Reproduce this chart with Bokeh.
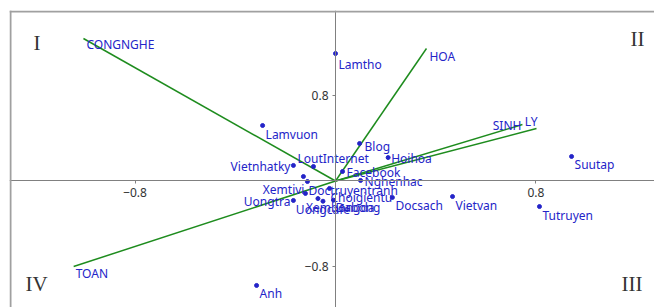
from bokeh.plotting import figure
from bokeh.models import ColumnDataSource, LinearAxis, FixedTicker, Span, Label
from bokeh.core.properties import value
from bokeh.embed import file_html
from bokeh.resources import INLINE

# ---- observations (points) ----
obs_names = ["Lamtho", "Lamvuon", "Blog", "Hoihoa", "LoutInternet", "Vietnhatky",
             "Facebook", "", "Xemtivi", "Nghenhac", "Doctruyentranh", "Choigientu",
             "Uongtra", "Xembongda", "Uongcafe", "Dabong", "Docsach", "Vietvan",
             "Tutruyen", "Suutap", "Anh"]
obs_x = [0.00, -0.291, 0.096, 0.21, -0.088, -0.168,
         0.028, -0.128, -0.112, 0.10, -0.12, -0.024,
         -0.168, -0.07, -0.05, -0.008, 0.227, 0.467,
         0.814, 0.942, -0.315]
obs_y = [1.197, 0.521, 0.352, 0.22, 0.136, 0.146,
         0.089, 0.042, -0.005, 0.005, -0.117, -0.07,
         -0.183, -0.165, -0.19, -0.18, -0.155, -0.146,
         -0.24, 0.23, -0.981]

# ---- variables (arrows) ----
var_names = ["CONGNGHE", "HOA", "SINH", "LY", "TOAN"]
var_x = [-1.006, 0.363, 0.746, 0.802, -1.045]
var_y = [1.338, 1.244, 0.53, 0.493, -0.803]

tick_values = [-0.8, 0.8]
quadrants = ["I", "II", "III", "IV"]

X_START, X_END = -1.301, 1.273
Y_START, Y_END = -1.188, 1.601

# label placement (layout only): align, baseline, dx, dy
obs_place = [("left", "top", 3, 2), ("left", "top", 3, 0), ("left", "middle", 5, 3),
             ("left", "middle", 3, 1), ("left", "bottom", -16, 0), ("right", "middle", -3, 1),
             ("left", "middle", 4, 1), ("left", "middle", 4, 0), ("right", "top", -3, -1),
             ("left", "middle", 4, 1), ("left", "middle", 3, -3), ("left", "top", 1, 1),
             ("right", "middle", -3, 1), ("left", "top", -12, 0), ("center", "top", 0, 0),
             ("left", "top", 2, -1), ("left", "top", 3, 0), ("left", "top", 3, 0),
             ("left", "top", 3, 0), ("left", "top", 3, 0), ("left", "top", 3, 0)]
var_place = [("left", "middle", 3, 6), ("left", "middle", 3, 8), ("right", "middle", -1, 1),
             ("right", "middle", 1, -7), ("left", "middle", 2, 7)]

BLUE = "#2424c8"
GREEN = "#1e8c1e"
GRID = "#a0a0a0"

p = figure(width=654, height=307, output_backend="svg", toolbar_location=None,
           x_range=(X_START, X_END), y_range=(Y_START, Y_END),
           x_axis_location=None, y_axis_location=None,
           min_border_left=9, min_border_top=10, min_border_right=0, min_border_bottom=0)
p.grid.visible = False
p.outline_line_color = None
p.background_fill_color = "white"

# frame borders (top, left), drawn just inside the frame
p.add_layout(Span(location=Y_END - 0.009, dimension="width", line_color=GRID, line_width=2))
p.add_layout(Span(location=X_START + 0.004, dimension="height", line_color=GRID, line_width=2))

# axes through origin
for side in ("below", "left"):
    ax = LinearAxis(fixed_location=0, ticker=FixedTicker(ticks=tick_values),
                    axis_line_color="#808080", axis_line_width=1,
                    major_tick_line_color="#808080", major_tick_out=3, major_tick_in=0,
                    minor_tick_line_color=None,
                    major_label_text_font="Noto Sans", major_label_text_font_size="12px",
                    major_label_text_color="#333333", major_label_standoff=4)
    p.add_layout(ax, side)

# variable arrows
for vx, vy in zip(var_x, var_y):
    p.line([0, vx], [0, vy], line_color=GREEN, line_width=1.5)

vsrc = ColumnDataSource(dict(x=var_x, y=var_y, t=var_names,
                             a=[q[0] for q in var_place], b=[q[1] for q in var_place],
                             dx=[q[2] for q in var_place], dy=[q[3] for q in var_place]))
p.text("x", "y", text="t", source=vsrc, text_align="a", text_baseline="b",
       x_offset="dx", y_offset="dy", text_color=BLUE, text_font=value("Noto Sans"),
       text_font_size="12px")

# observation points
osrc = ColumnDataSource(dict(x=obs_x, y=obs_y, t=obs_names,
                             a=[q[0] for q in obs_place], b=[q[1] for q in obs_place],
                             dx=[q[2] for q in obs_place], dy=[q[3] for q in obs_place]))
p.scatter("x", "y", source=osrc, size=4, color=BLUE)
p.text("x", "y", text="t", source=osrc, text_align="a", text_baseline="b",
       x_offset="dx", y_offset="dy", text_color=BLUE, text_font=value("Noto Sans"),
       text_font_size="12px")

# quadrant numerals
qpos = [(24, 253), (621, 257), (612, 12), (16, 12)]
for q, (sx, sy) in zip(quadrants, qpos):
    p.add_layout(Label(x=sx, y=sy, x_units="screen", y_units="screen", text=q,
                       text_font="Liberation Serif", text_font_size="21px",
                       text_color="#333333"))

open("out.html", "w").write(file_html(p, INLINE))
